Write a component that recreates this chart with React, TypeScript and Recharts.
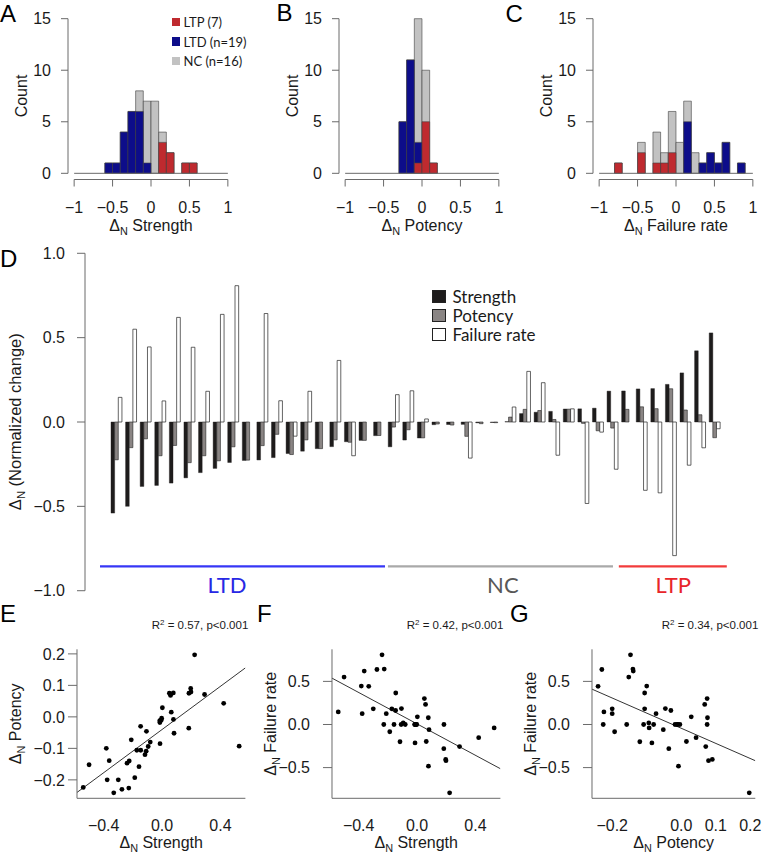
import React from 'react';
import {
  BarChart,
  Bar,
  XAxis,
  YAxis,
  ReferenceLine,
  ReferenceDot,
  Legend,
  ScatterChart,
  Scatter,
} from 'recharts';

// ---------------------------------------------------------------------------
// DATA
// ---------------------------------------------------------------------------

// Panels A–C: histogram bins (width 0.1, from -1 to 1); counts per bin
const binStarts = [-1.0, -0.9, -0.8, -0.7, -0.6, -0.5, -0.4, -0.3, -0.2, -0.1, 0.0, 0.1, 0.2, 0.3, 0.4, 0.5, 0.6, 0.7, 0.8, 0.9];

const strengthAll = [0, 0, 0, 0, 1, 1, 4, 6, 8, 7, 7, 4, 2, 0, 1, 1, 0, 0, 0, 0];
const strengthLTD = [0, 0, 0, 0, 1, 1, 4, 6, 6, 1, 0, 0, 0, 0, 0, 0, 0, 0, 0, 0];
const strengthLTP = [0, 0, 0, 0, 0, 0, 0, 0, 0, 0, 0, 3, 2, 0, 1, 1, 0, 0, 0, 0];

const potencyAll = [0, 0, 0, 0, 0, 0, 0, 5, 11, 15, 10, 1, 0, 0, 0, 0, 0, 0, 0, 0];
const potencyLTD = [0, 0, 0, 0, 0, 0, 0, 5, 11, 3, 0, 0, 0, 0, 0, 0, 0, 0, 0, 0];
const potencyLTP = [0, 0, 0, 0, 0, 0, 0, 0, 0, 1, 5, 1, 0, 0, 0, 0, 0, 0, 0, 0];

const failureAll = [0, 0, 1, 0, 0, 3, 0, 4, 2, 6, 3, 7, 2, 1, 2, 1, 3, 0, 1, 0];
const failureLTD = [0, 0, 0, 0, 0, 0, 0, 0, 0, 0, 0, 5, 0, 1, 2, 1, 3, 0, 1, 0];
const failureLTP = [0, 0, 1, 0, 0, 2, 0, 1, 1, 2, 0, 0, 0, 0, 0, 0, 0, 0, 0, 0];

const histSeriesNames = ['NC (n=16)', 'LTD (n=19)', 'LTP (7)'];
const histLegendOrder = ['LTP (7)', 'LTD (n=19)', 'NC (n=16)'];
const histXTicks = [-1, -0.5, 0, 0.5, 1];
const histYTicks = [0, 5, 10, 15];

// Panel D: per-cell normalized changes (19 LTD, 16 NC, 7 LTP)
const cellClass = [
  'LTD', 'LTD', 'LTD', 'LTD', 'LTD', 'LTD', 'LTD', 'LTD', 'LTD', 'LTD',
  'LTD', 'LTD', 'LTD', 'LTD', 'LTD', 'LTD', 'LTD', 'LTD', 'LTD',
  'NC', 'NC', 'NC', 'NC', 'NC', 'NC', 'NC', 'NC', 'NC', 'NC',
  'NC', 'NC', 'NC', 'NC', 'NC', 'NC',
  'LTP', 'LTP', 'LTP', 'LTP', 'LTP', 'LTP', 'LTP',
];
const strength = [
  -0.54, -0.5, -0.382, -0.376, -0.362, -0.331, -0.3, -0.275, -0.24, -0.228,
  -0.225, -0.211, -0.187, -0.173, -0.158, -0.146, -0.117, -0.109, -0.081,
  -0.147, -0.107, -0.095, -0.016, -0.015, -0.014, -0.005, -0.003, 0.002, 0.05, 0.058,
  0.063, 0.077, 0.078, 0.082, 0.183,
  0.184, 0.196, 0.198, 0.223, 0.291, 0.422, 0.528,
];
const potency = [
  -0.224, -0.152, -0.1, -0.2, -0.139, -0.241, -0.2, -0.23, -0.147, -0.226,
  -0.14, -0.073, -0.193, -0.106, -0.158, -0.106, -0.12, -0.109, -0.08,
  -0.03, -0.046, -0.094, -0.012, -0.018, -0.085, -0.01, -0.004, 0.029, 0.075, 0.068,
  0.015, 0.076, -0.008, -0.052, -0.036,
  0.075, 0.09, 0.079, 0.197, 0.071, 0.043, -0.093,
];
const failureRate = [
  0.146, 0.55, 0.445, 0.125, 0.62, 0.443, 0.182, 0.638, 0.808, 0,
  0.643, 0.126, -0.084, 0.182, 0, 0.365, -0.2, 0, 0,
  0.162, 0.185, 0.018, 0, 0, -0.214, 0, 0, 0.089, 0.3, 0.233,
  -0.197, 0.078, -0.483, -0.06, -0.28,
  0, -0.405, -0.42, -0.792, -0.256, -0.153, -0.04,
];
const dSeriesNames = ['Strength', 'Potency', 'Failure rate'];
const dYTicks = [-1, -0.5, 0, 0.5, 1];
const groupNames = ['LTD', 'NC', 'LTP'];

// Panels E–G
const r2Values = ['0.57', '0.42', '0.34'];
const pValueText = 'p<0.001';

// ---------------------------------------------------------------------------
// STYLE
// ---------------------------------------------------------------------------
const RFONT = '"Liberation Sans", Arial, Helvetica, sans-serif';
const MFONT = 'Lato, "Open Sans", "Liberation Sans", sans-serif';
const INK = '#1a1a1a';
const AXIS = '#6a6a6a';
const H_RED = '#bf2a2f';
const H_BLUE = '#0d0d8a';
const H_GRAY = '#c2c2c2';
const H_EDGE = '#404040';

const fmtHist = (v: number) => (v < 0 ? '\u2212' : '') + String(Math.abs(v));
const fmt1 = (v: number) => (v < 0 ? '\u2212' : '') + Math.abs(v).toFixed(1);

function DeltaText({ x, y, text, size = 16, rotate = false }: any) {
  return (
    <text
      x={x}
      y={y}
      textAnchor="middle"
      fontSize={size}
      fontFamily={RFONT}
      fill={INK}
      transform={rotate ? `rotate(-90 ${x} ${y})` : undefined}
    >
      {'\u0394'}
      <tspan fontSize={size * 0.68} dy={size * 0.22}>N</tspan>
      <tspan dy={-size * 0.22}>{' ' + text}</tspan>
    </text>
  );
}

// ---------------------------------------------------------------------------
// Histograms A–C
// ---------------------------------------------------------------------------
const H_ML = 70;
const H_PW = 166;
const H_PH = 167;
const H_TOP = 12.5;

function HistLegend(props: any) {
  const pl = props.payload ?? [];
  const items = histLegendOrder.map((n) => pl.find((it: any) => it.value === n)).filter(Boolean);
  return (
    <div style={{ fontFamily: MFONT, fontSize: 13, color: INK, whiteSpace: 'nowrap' }}>
      {items.map((it: any) => (
        <div key={it.value} style={{ display: 'flex', alignItems: 'center', height: 19.7 }}>
          <span
            style={{
              display: 'inline-block',
              width: 8.5,
              height: 8.5,
              background: it.payload?.fill ?? it.color,
              marginRight: 3.5,
            }}
          />
          <span>{it.value}</span>
        </div>
      ))}
    </div>
  );
}

function Histogram({ plotX, all, ltd, ltp, title, legend }: any) {
  const CW = 250;
  const CH = 240;
  const pad = (H_PW * 0.08) / 2.16;
  const band = (H_PW - 2 * pad) / binStarts.length;
  const rows = binStarts.map((b, i) => ({ bin: b, mid: b + 0.05, all: all[i], ltd: ltd[i], ltp: ltp[i] }));
  const cx = H_ML + H_PW / 2;
  const cy = H_TOP + H_PH / 2;
  const left = plotX - H_ML;
  const tickStyle = { fontSize: 16, fill: INK, fontFamily: RFONT };
  return (
    <div style={{ position: 'absolute', left, top: 0 }}>
      <BarChart
        width={CW}
        height={CH}
        data={rows}
        margin={{ top: H_TOP, left: H_ML - 1, right: CW - H_ML - H_PW, bottom: CH - H_TOP - H_PH - 1 }}
        barCategoryGap={0}
        barGap={0}
      >
        <XAxis
          xAxisId="num"
          dataKey="mid"
          type="number"
          domain={[-1.08, 1.08]}
          allowDataOverflow
          ticks={histXTicks}
          interval={0}
          tickFormatter={fmtHist}
          axisLine={false}
          tickLine={{ stroke: AXIS }}
          tickSize={7}
          tickMargin={15.5}
          height={1}
          tick={tickStyle}
          label={() => <DeltaText x={cx} y={231} text={title} />}
        />
        <XAxis xAxisId="all" dataKey="bin" type="category" hide height={0} padding={{ left: pad, right: pad }} />
        <XAxis xAxisId="ltd" dataKey="bin" type="category" hide height={0} padding={{ left: pad, right: pad }} />
        <XAxis xAxisId="ltp" dataKey="bin" type="category" hide height={0} padding={{ left: pad, right: pad }} />
        <YAxis
          type="number"
          domain={[-0.6, 15.6]}
          allowDataOverflow
          ticks={histYTicks}
          interval={0}
          axisLine={false}
          tickLine={{ stroke: AXIS }}
          tickSize={7}
          tickMargin={10}
          width={1}
          tick={tickStyle}
          label={() => (
            <text
              x={H_ML - 41}
              y={cy}
              textAnchor="middle"
              fontSize={16}
              fontFamily={RFONT}
              fill={INK}
              transform={`rotate(-90 ${H_ML - 41} ${cy})`}
            >
              Count
            </text>
          )}
        />
        <ReferenceLine xAxisId="num" segment={[{ x: -1, y: 0 }, { x: 1, y: 0 }]} stroke={AXIS} strokeWidth={1} ifOverflow="visible" />
        <ReferenceLine xAxisId="num" segment={[{ x: -1, y: -0.6 }, { x: 1, y: -0.6 }]} stroke={AXIS} strokeWidth={1} ifOverflow="visible" />
        <ReferenceLine xAxisId="num" segment={[{ x: -1.08, y: 0 }, { x: -1.08, y: 15 }]} stroke={AXIS} strokeWidth={1} ifOverflow="visible" />
        <Bar xAxisId="all" dataKey="all" name={histSeriesNames[0]} fill={H_GRAY} stroke={H_EDGE} strokeWidth={0.6} barSize={band - 0.02} isAnimationActive={false} />
        <Bar xAxisId="ltd" dataKey="ltd" name={histSeriesNames[1]} fill={H_BLUE} stroke={H_EDGE} strokeWidth={0.6} barSize={band - 0.02} isAnimationActive={false} />
        <Bar xAxisId="ltp" dataKey="ltp" name={histSeriesNames[2]} fill={H_RED} stroke={H_EDGE} strokeWidth={0.6} barSize={band - 0.02} isAnimationActive={false} />
        {legend && (
          <Legend
            layout="vertical"
            align="center"
            verticalAlign="middle"
            content={HistLegend}
            wrapperStyle={{ left: 174, top: 12, width: 100 }}
          />
        )}
      </BarChart>
    </div>
  );
}

// ---------------------------------------------------------------------------
// Panel D
// ---------------------------------------------------------------------------
function DLegend(props: any) {
  const pl = props.payload ?? [];
  const items = dSeriesNames.map((n) => pl.find((it: any) => it.value === n)).filter(Boolean);
  return (
    <div style={{ fontFamily: MFONT, fontSize: 17, color: INK, whiteSpace: 'nowrap' }}>
      {items.map((it: any) => (
        <div key={it.value} style={{ display: 'flex', alignItems: 'center', height: 19 }}>
          <span
            style={{
              display: 'inline-block',
              width: 11.5,
              height: 11.5,
              background: it.payload?.fill ?? it.color,
              border: '1px solid #222',
              marginRight: 7,
            }}
          />
          <span>{it.value}</span>
        </div>
      ))}
    </div>
  );
}

function PanelD() {
  const TOP = 230;
  const CW = 765;
  const CH = 400;
  const plotL = 85;
  const plotR = 744;
  const plotT = 239.8 - TOP;
  const plotB = 604.2 - TOP;
  const bandPx = 14.59;
  const unitPx = bandPx / 4;
  const firstBar = 110; // px of first bar's left edge
  const padL = firstBar - 1 - plotL;
  const padR = plotR - (plotL + padL + strength.length * bandPx);
  const uMin = 1 + (plotL - firstBar) / unitPx;
  const uMax = 1 + (plotR - firstBar) / unitPx;
  const barW = unitPx;
  const rows = strength.map((s, i) => ({
    id: String(i + 1),
    u: 4 * i + 2.5,
    cls: cellClass[i],
    strength: s,
    potency: potency[i],
    failure: failureRate[i],
  }));
  const decor = [
    { name: groupNames[0], line: '#3737f6', text: '#2828e4', from: -1.74, to: 76.4, mid: 33.1 },
    { name: groupNames[1], line: '#a9a9a9', text: '#585858', from: 77.2, to: 138.9, mid: 108.7 },
    { name: groupNames[2], line: '#f23b3b', text: '#e8252a', from: 140.5, to: 170.1, mid: 155.4 },
  ];
  const tickStyle = { fontSize: 16, fill: INK, fontFamily: RFONT };
  return (
    <div style={{ position: 'absolute', left: 0, top: TOP }}>
      <BarChart
        width={CW}
        height={CH}
        data={rows}
        margin={{ top: plotT, left: plotL - 1, right: CW - plotR, bottom: CH - plotB }}
        barCategoryGap={0}
        barGap={0}
      >
        <XAxis xAxisId="c" dataKey="id" type="category" hide height={0} padding={{ left: padL, right: padR }} />
        <XAxis xAxisId="u" dataKey="u" type="number" domain={[uMin, uMax]} allowDataOverflow hide height={0} />
        <YAxis
          type="number"
          domain={[-1.08, 1.08]}
          allowDataOverflow
          ticks={dYTicks}
          interval={0}
          tickFormatter={fmt1}
          axisLine={false}
          tickLine={{ stroke: AXIS }}
          tickSize={8}
          tickMargin={12}
          width={1}
          tick={tickStyle}
          label={() => <DeltaText x={21.5} y={421.7 - TOP} text="(Normalized change)" size={16.5} rotate />}
        />
        <ReferenceLine xAxisId="u" segment={[{ x: uMin, y: -1 }, { x: uMin, y: 1 }]} stroke={AXIS} strokeWidth={1} ifOverflow="visible" />
        <Bar xAxisId="c" dataKey="strength" name={dSeriesNames[0]} fill="#1e1c1c" stroke="#1e1c1c" strokeWidth={0.4} barSize={barW} isAnimationActive={false} />
        <Bar xAxisId="c" dataKey="potency" name={dSeriesNames[1]} fill="#8a8584" stroke="#222" strokeWidth={0.6} barSize={barW} isAnimationActive={false} />
        <Bar xAxisId="c" dataKey="failure" name={dSeriesNames[2]} fill="#ffffff" stroke="#222" strokeWidth={0.7} barSize={barW} isAnimationActive={false} />
        {decor.map((d) => (
          <ReferenceLine
            key={'l' + d.name}
            xAxisId="u"
            segment={[{ x: d.from, y: -0.856 }, { x: d.to, y: -0.856 }]}
            stroke={d.line}
            strokeWidth={2.2}
            ifOverflow="visible"
          />
        ))}
        {decor.map((d) => (
          <ReferenceDot
            key={'t' + d.name}
            xAxisId="u"
            x={d.mid}
            y={-1.015}
            r={1}
            fill="none"
            stroke="none"
            ifOverflow="visible"
            label={(p: any) => {
              const vb = p.viewBox ?? {};
              const x = (vb.x ?? 0) + (vb.width ?? 0) / 2;
              const y = (vb.y ?? 0) + (vb.height ?? 0) / 2;
              return (
                <text x={x} y={y} textAnchor="middle" fontSize={22} fontFamily={MFONT} fill={d.text}>
                  {d.name}
                </text>
              );
            }}
          />
        ))}
        <Legend
          layout="vertical"
          align="center"
          verticalAlign="middle"
          content={DLegend}
          wrapperStyle={{ left: 432, top: 296.5 - 9.5 - TOP, width: 140 }}
        />
      </BarChart>
    </div>
  );
}

// ---------------------------------------------------------------------------
// Panels E–G
// ---------------------------------------------------------------------------
function ScatterPanel({ plotLeft, plotRight, xs, ys, xTicks, yTicks, xTitle, yTitle, yTickMargin }: any) {
  const ML = 80;
  const MR = 10;
  const TOP = 600;
  const CH = 253;
  const pT = 649.3 - TOP;
  const pB = 798.3 - TOP;
  const pw = plotRight - plotLeft;
  const CW = ML + pw + MR;
  const ext = (v: number[]) => {
    const lo = Math.min(...v);
    const hi = Math.max(...v);
    const r = hi - lo;
    return [lo - 0.04 * r, hi + 0.04 * r];
  };
  const dx = ext(xs);
  const dy = ext(ys);
  const pts = xs.map((x: number, i: number) => ({ x, y: ys[i] }));
  const n = xs.length;
  const mx = xs.reduce((a: number, b: number) => a + b, 0) / n;
  const my = ys.reduce((a: number, b: number) => a + b, 0) / n;
  let sxy = 0;
  let sxx = 0;
  for (let i = 0; i < n; i++) {
    sxy += (xs[i] - mx) * (ys[i] - my);
    sxx += (xs[i] - mx) * (xs[i] - mx);
  }
  const slope = sxy / sxx;
  const icpt = my - slope * mx;
  const tickStyle = { fontSize: 16, fill: INK, fontFamily: RFONT };
  const cx = ML + pw / 2;
  const cy = pT + (pB - pT) / 2;
  return (
    <div style={{ position: 'absolute', left: plotLeft - ML, top: TOP }}>
      <ScatterChart width={CW} height={CH} margin={{ top: pT, left: ML - 1, right: MR, bottom: CH - pB - 1 }}>
        <XAxis
          type="number"
          dataKey="x"
          domain={dx}
          allowDataOverflow
          ticks={xTicks}
          interval={0}
          tickFormatter={fmt1}
          axisLine={{ stroke: AXIS }}
          tickLine={false}
          tickSize={0}
          tickMargin={21}
          height={1}
          tick={tickStyle}
          label={() => <DeltaText x={cx} y={848.5 - TOP} text={xTitle} />}
        />
        <YAxis
          type="number"
          dataKey="y"
          domain={dy}
          allowDataOverflow
          ticks={yTicks}
          interval={0}
          tickFormatter={fmt1}
          axisLine={{ stroke: AXIS }}
          tickLine={{ stroke: AXIS }}
          tickSize={9}
          tickMargin={yTickMargin}
          width={1}
          tick={tickStyle}
          label={() => <DeltaText x={ML - 56} y={cy} text={yTitle} rotate />}
        />
        <ReferenceLine
          segment={[
            { x: dx[0], y: icpt + slope * dx[0] },
            { x: dx[1], y: icpt + slope * dx[1] },
          ]}
          stroke="#333"
          strokeWidth={1}
          ifOverflow="hidden"
        />
        <Scatter
          data={pts}
          isAnimationActive={false}
          shape={(p: any) => <circle cx={p.cx} cy={p.cy} r={2.4} fill="#000" />}
        />
      </ScatterChart>
    </div>
  );
}

function R2Text({ x, y, value }: any) {
  return (
    <text x={x} y={y} textAnchor="end" fontSize={11.5} fontFamily={RFONT} fill={INK}>
      R<tspan fontSize={8} dy={-4.5}>2</tspan>
      <tspan dy={4.5}>{' = ' + value + ', ' + pValueText}</tspan>
    </text>
  );
}

export default function App() {
  const letters = [
    { t: 'A', x: 0, y: 21.5 },
    { t: 'B', x: 276.5, y: 21 },
    { t: 'C', x: 505.5, y: 21.5 },
    { t: 'D', x: 0, y: 267 },
    { t: 'E', x: 0, y: 622 },
    { t: 'F', x: 257, y: 622 },
    { t: 'G', x: 510, y: 622 },
  ];
  const scatterPanels = [
    { key: 'E', plotLeft: 77.3, plotRight: 245.7, xs: strength, ys: potency, xTicks: [-0.4, 0, 0.4], yTicks: [-0.2, -0.1, 0, 0.1, 0.2], xTitle: 'Strength', yTitle: 'Potency', yTickMargin: 3, r2x: 248.3 },
    { key: 'F', plotLeft: 332.3, plotRight: 500.7, xs: strength, ys: failureRate, xTicks: [-0.4, 0, 0.4], yTicks: [-0.5, 0, 0.5], xTitle: 'Strength', yTitle: 'Failure rate', yTickMargin: 13, r2x: 503.3 },
    { key: 'G', plotLeft: 591.7, plotRight: 755, xs: potency, ys: failureRate, xTicks: [-0.2, 0, 0.1, 0.2], yTicks: [-0.5, 0, 0.5], xTitle: 'Potency', yTitle: 'Failure rate', yTickMargin: 13, r2x: 758.3 },
  ];
  return (
    <div
      style={{
        position: 'absolute',
        left: 0,
        top: 0,
        width: 765,
        height: 853,
        background: '#fff',
        overflow: 'hidden',
        fontFamily: RFONT,
      }}
    >
      <Histogram plotX={67.5} all={strengthAll} ltd={strengthLTD} ltp={strengthLTP} title="Strength" legend />
      <Histogram plotX={339} all={potencyAll} ltd={potencyLTD} ltp={potencyLTP} title="Potency" />
      <Histogram plotX={592.8} all={failureAll} ltd={failureLTD} ltp={failureLTP} title="Failure rate" />
      <PanelD />
      {scatterPanels.map((p) => (
        <ScatterPanel key={p.key} {...p} />
      ))}
      <svg
        width={765}
        height={853}
        style={{ position: 'absolute', left: 0, top: 0, pointerEvents: 'none' }}
      >
        {letters.map((l) => (
          <text key={l.t} x={l.x} y={l.y} fontSize={24} fontFamily={RFONT} fill="#000">
            {l.t}
          </text>
        ))}
        {scatterPanels.map((p, i) => (
          <R2Text key={'r' + p.key} x={p.r2x} y={629} value={r2Values[i]} />
        ))}
      </svg>
    </div>
  );
}
